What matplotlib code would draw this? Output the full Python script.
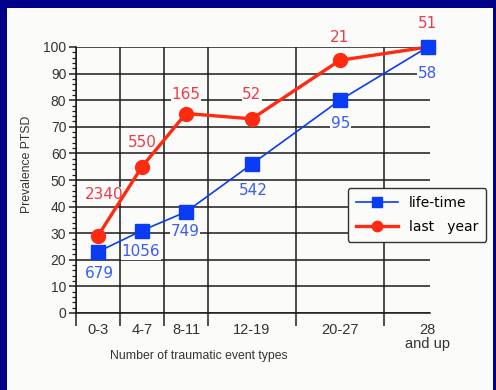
import matplotlib
matplotlib.use("Agg")
import matplotlib.pyplot as plt
from matplotlib.patches import Rectangle

# category bins (x plotted at bin midpoint on a numeric axis)
categories = ['0-3', '4-7', '8-11', '12-19', '20-27', '28\nand up']
x_pos = [2, 6, 10, 16, 24, 32]
bin_edges = [0, 4, 8, 12, 20, 28]

lifetime = [23, 31, 38, 56, 80, 100]
last_year = [29, 55, 75, 73, 95, 100]

lifetime_n = ['679', '1056', '749', '542', '95', '58']
last_year_n = ['2340', '550', '165', '52', '21', '51']

# label positions (data coords) for the n annotations
lifetime_lab = [(2.1, 14.7), (5.9, 23), (9.9, 30.5), (16.1, 46.2), (24.1, 71.4), (32, 90.2)]
last_year_lab = [(2.6, 44.4), (6.0, 64), (10.0, 82), (16, 82), (24, 103.4), (32, 109)]

RED = '#ff2a10'
BLUE = '#0a3cf5'

fig = plt.figure(figsize=(4.96, 3.90), dpi=100)
fig.patch.set_facecolor('#000088')
fig.patches.append(Rectangle((7/496, 0), (493-7)/496, (390-8)/390,
                             transform=fig.transFigure, facecolor='#fbfbf9',
                             edgecolor='none', zorder=-1))

ax = fig.add_axes([76/496, 77/390, 354/496, 266/390])
ax.set_facecolor('none')

ax.plot(x_pos, lifetime, color=BLUE, lw=1.2, marker='s', ms=10,
        markeredgecolor=BLUE, label='life-time', clip_on=False, zorder=4)
ax.plot(x_pos, last_year, color=RED, lw=2.4, marker='o', ms=10,
        markeredgecolor=RED, label='last   year', clip_on=False, zorder=3)

box = dict(facecolor='#fbfbf9', edgecolor='none', pad=0.5)
for (x, y), t in zip(lifetime_lab, lifetime_n):
    ax.text(x, y, t, color='#3a5cf0', fontsize=11, ha='center', va='center',
            bbox=box, zorder=2.5, clip_on=False)
for (x, y), t in zip(last_year_lab, last_year_n):
    ax.text(x, y, t, color='#f03a4a', fontsize=11, ha='center', va='center',
            bbox=box, zorder=2.5, clip_on=False)

ax.set_xlim(0, 32.2)
ax.set_ylim(0, 100)

# grid: vertical lines at bin edges, horizontal every 10
ax.set_xticks(bin_edges)
ax.set_xticklabels([])
ax.set_xticks(x_pos, minor=True)
ax.set_xticklabels(categories, minor=True, fontsize=10.5, color='#333333',
                   linespacing=1.0, family='Liberation Sans')
ax.tick_params(axis='x', which='major', length=9, width=1.1, color='#222222')
ax.tick_params(axis='x', which='minor', length=0, pad=7)

ax.set_yticks(range(0, 101, 10))
ax.set_yticks(range(0, 101, 2), minor=True)
ax.set_yticklabels([str(v) for v in range(0, 101, 10)], family='Liberation Sans')
ax.tick_params(axis='y', which='major', length=5, width=1.1, color='#222222',
               labelsize=10, labelcolor='#333333', pad=2)
ax.tick_params(axis='y', which='minor', length=3, width=0.9, color='#222222')

ax.grid(True, which='major', color='#1a1a1a', lw=1.1, zorder=1)
for s in ['top', 'right']:
    ax.spines[s].set_visible(False)
for s in ['left', 'bottom']:
    ax.spines[s].set_color('#1a1a1a')
    ax.spines[s].set_linewidth(1.1)

ax.set_xlabel('Number of traumatic event types', fontsize=8.8,
              color='#333333', family='Liberation Sans', va='center')
ax.xaxis.set_label_coords(0.347, -0.162)
ax.set_ylabel('Prevalence PTSD', fontsize=8.8, color='#333333',
              family='Liberation Sans', va='center')
ax.yaxis.set_label_coords(-0.138, 0.56)

leg = ax.legend(loc='center', bbox_to_anchor=(417/496, 175/390),
                bbox_transform=fig.transFigure, fontsize=10, fancybox=True,
                framealpha=1, facecolor='#fbfbf9', edgecolor='#333333',
                handlelength=3.0, borderpad=0.6, labelspacing=0.7,
                markerscale=0.75)
leg.get_frame().set_linewidth(1.0)
leg.set_zorder(6)

fig.savefig('out.png', dpi=100, facecolor=fig.get_facecolor())
